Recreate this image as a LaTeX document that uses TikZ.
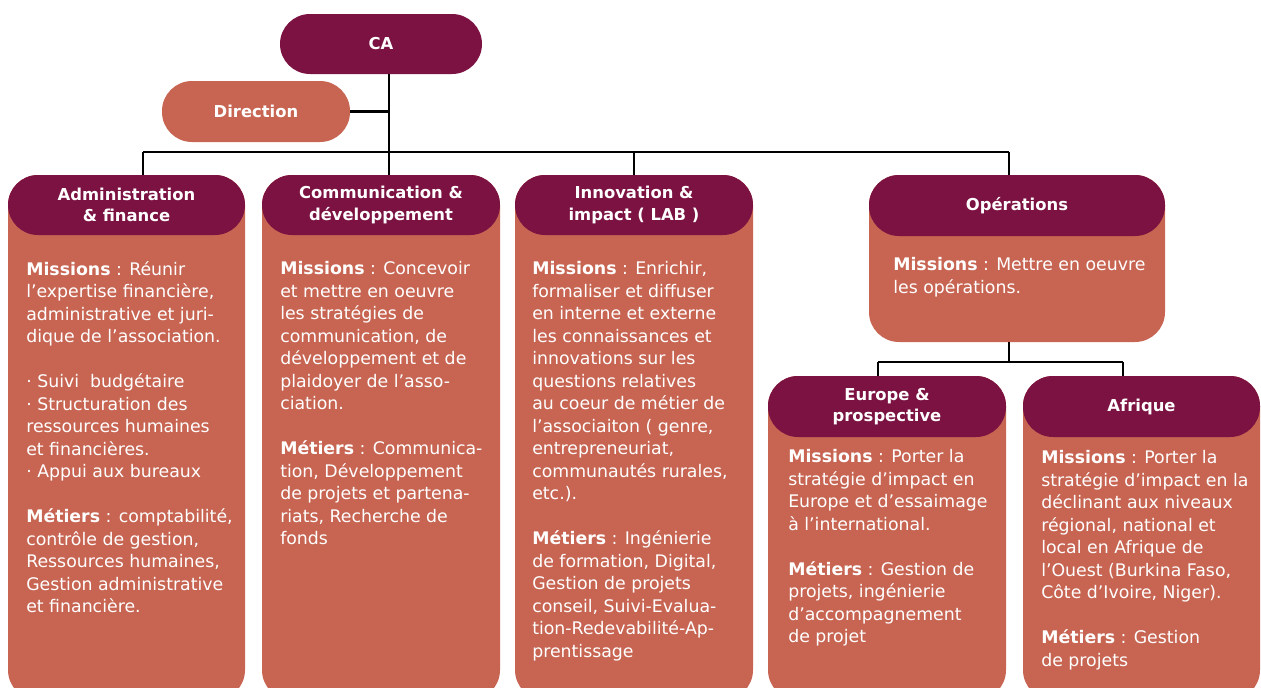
\documentclass[tikz,border=0pt]{standalone}
\usepackage{fontspec}
\setmainfont{DejaVu Sans}
\definecolor{prune}{RGB}{123,18,66}
\definecolor{brique}{RGB}{199,101,82}
\begin{document}
\begin{tikzpicture}[x=0.75pt,y=-0.75pt,
	titre/.style={fill=prune,rounded corners=22.5pt,text=white,align=center,
		font=\fontsize{12.3}{16}\selectfont\bfseries,inner sep=0pt},
	petit/.style={fill=brique,rounded corners=22.5pt,text=white,align=center,
		font=\fontsize{12.3}{16}\selectfont\bfseries,inner sep=0pt},
	corps/.style={fill=brique,rounded corners=22.5pt},
	texte/.style={anchor=north west,inner sep=0pt,align=left,text=white,
		font=\fontsize{13}{16.875}\selectfont,execute at begin node=\strut},
	lien/.style={line width=2pt,black}]
	\useasboundingbox (0,0) rectangle (1261,687);
	\clip (0,0) rectangle (1261,687);
	% points de jonction
	\coordinate (jA) at (143,152);
	\coordinate (jC) at (389,152);
	\coordinate (jI) at (634,152);
	\coordinate (jO) at (1009,152);
	\coordinate (jE) at (878,362);
	\coordinate (jF) at (1123,362);
	\coordinate (bas) at (0,705);
	\coordinate (opebas) at (0,342);
	% tetes
	\node[titre,minimum width=151.5pt,minimum height=45pt] (ca) at (381,44) {CA};
	\node[petit,minimum width=141pt,minimum height=45.75pt] (dir) at (256,111.5) {Direction};
	% corps des poles
	\fill[corps] (8,175) rectangle (245,700);
	\fill[corps] (262,175) rectangle (500,700);
	\fill[corps] (515,175) rectangle (753,700);
	\fill[corps] (869,175) rectangle (1165,342);
	\fill[corps] (768,376) rectangle (1006,700);
	\fill[corps] (1023,376) rectangle (1260,700);
	\node[titre,minimum width=177.75pt,minimum height=45pt] (adm) at (126.5,205) {Administration\\ \& finance};
	\node[titre,minimum width=178.5pt,minimum height=45pt] (com) at (381,205) {Communication \&\\ développement};
	\node[titre,minimum width=178.5pt,minimum height=45pt] (inn) at (634,205) {Innovation \&\\ impact ( LAB )};
	\node[titre,minimum width=222pt,minimum height=45.75pt] (ope) at (1017,205.5) {Opérations};
	\node[titre,minimum width=178.5pt,minimum height=45.75pt] (eur) at (887,406.5) {Europe \&\\ prospective};
	\node[titre,minimum width=177.75pt,minimum height=45.75pt] (afr) at (1141.5,406.5) {Afrique};
	% liens
	\draw[lien] (ca.south -| jC) -- (jC);
	\draw[lien] (dir.east) -- (dir.east -| jC);
	\draw[lien] (jA) -- (jO);
	\draw[lien] (jA) -- (jA |- adm.north);
	\draw[lien] (jC) -- (jC |- com.north);
	\draw[lien] (jI) -- (jI |- inn.north);
	\draw[lien] (jO) -- (jO |- ope.north);
	\draw[lien] (jO |- opebas) -- (jO |- jE);
	\draw[lien] (jE) -- (jF);
	\draw[lien] (jE) -- (jE |- eur.north);
	\draw[lien] (jF) -- (jF |- afr.north);
	% textes
	\node[texte] (admtxt) at (26,261.25) {\textbf{Missions} : Réunir\\
		l’expertise financière,\\
		administrative et juri-\\
		dique de l’association.\\[16.875pt]
		· Suivi\ \ budgétaire\\
		· Structuration des\\
		ressources humaines\\
		et financières.\\
		· Appui aux bureaux\\[16.875pt]
		\textbf{Métiers} : comptabilité,\\
		contrôle de gestion,\\
		Ressources humaines,\\
		Gestion administrative\\
		et financière.};
	\node[texte] (comtxt) at (280,261.25) {\textbf{Missions} : Concevoir\\
		et mettre en oeuvre\\
		les stratégies de\\
		communication, de\\
		développement et de\\
		plaidoyer de l’asso-\\
		ciation.\\[16.875pt]
		\textbf{Métiers} : Communica-\\
		tion, Développement\\
		de projets et partena-\\
		riats, Recherche de\\
		fonds};
	\node[texte] (inntxt) at (532,261.25) {\textbf{Missions} : Enrichir,\\
		formaliser et diffuser\\
		en interne et externe\\
		les connaissances et\\
		innovations sur les\\
		questions relatives\\
		au coeur de métier de\\
		l’associaiton ( genre,\\
		entrepreneuriat,\\
		communautés rurales,\\
		etc.).\\[16.875pt]
		\textbf{Métiers} : Ingénierie\\
		de formation, Digital,\\
		Gestion de projets\\
		conseil, Suivi-Evalua-\\
		tion-Redevabilité-Ap-\\
		prentissage};
	\node[texte] (opetxt) at (893,257.25) {\textbf{Missions} : Mettre en oeuvre\\
		les opérations.};
	\node[texte] (eurtxt) at (788,449.25) {\textbf{Missions} : Porter la\\
		stratégie d’impact en\\
		Europe et d’essaimage\\
		à l’international.\\[16.875pt]
		\textbf{Métiers} : Gestion de\\
		projets, ingénierie\\
		d’accompagnement\\
		de projet};
	\node[texte] (afrtxt) at (1041,450.25) {\textbf{Missions} : Porter la\\
		stratégie d’impact en la\\
		déclinant aux niveaux\\
		régional, national et\\
		local en Afrique de\\
		l’Ouest (Burkina Faso,\\
		Côte d’Ivoire, Niger).\\[16.875pt]
		\textbf{Métiers} : Gestion\\
		de projets};
\end{tikzpicture}
\end{document}
